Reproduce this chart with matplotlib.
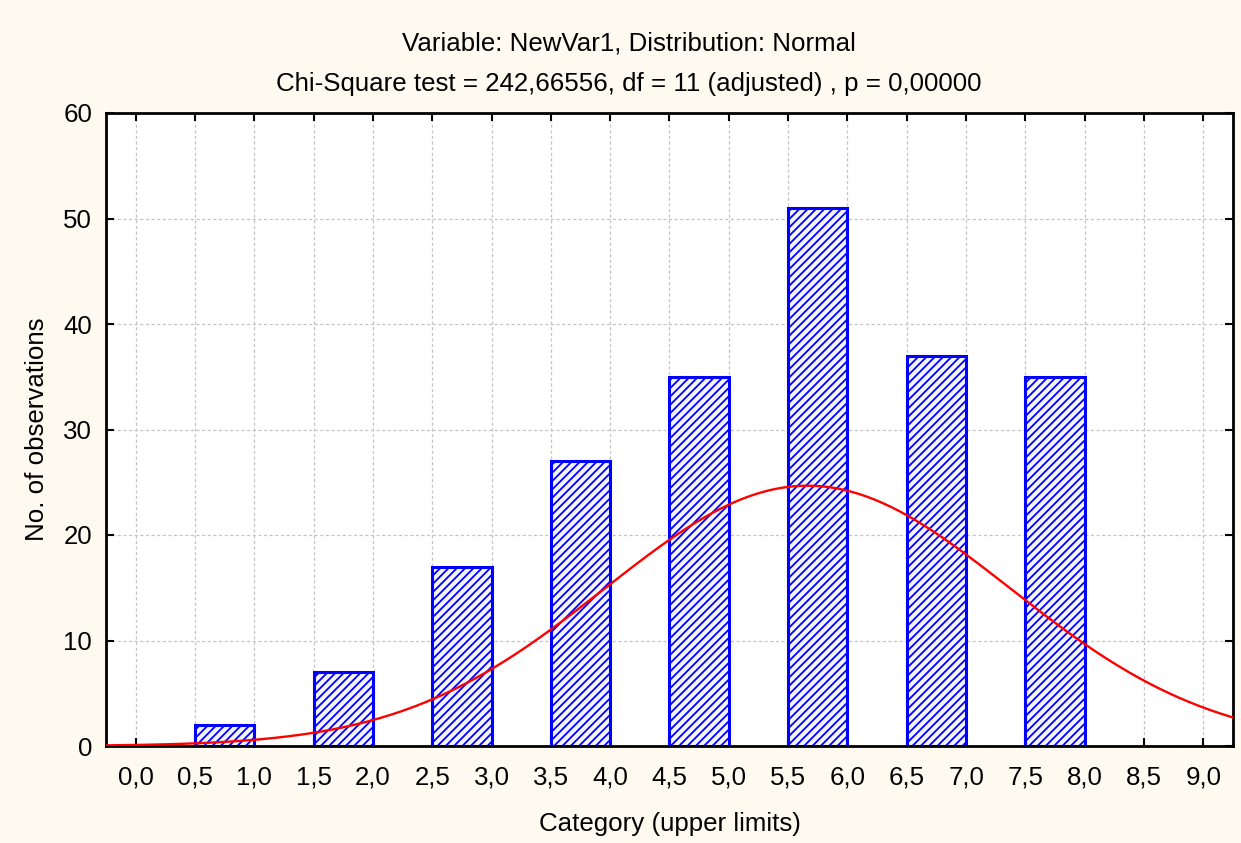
import numpy as np
import matplotlib
matplotlib.use('Agg')
import matplotlib.pyplot as plt

plt.rcParams['font.family'] = ['Liberation Sans', 'DejaVu Sans']
plt.rcParams['hatch.linewidth'] = 1.3

# 数据：每个区间的上限和观测数
upper_limits = [1.0, 2.0, 3.0, 4.0, 5.0, 6.0, 7.0, 8.0]
counts = [2, 7, 17, 27, 35, 51, 37, 35]
bin_width = 0.5

tick_values = [0.0, 0.5, 1.0, 1.5, 2.0, 2.5, 3.0, 3.5, 4.0, 4.5, 5.0, 5.5, 6.0, 6.5, 7.0, 7.5, 8.0, 8.5, 9.0]
tick_labels = ['0,0', '0,5', '1,0', '1,5', '2,0', '2,5', '3,0', '3,5', '4,0',
               '4,5', '5,0', '5,5', '6,0', '6,5', '7,0', '7,5', '8,0', '8,5', '9,0']

title1 = 'Variable: NewVar1, Distribution: Normal'
title2 = 'Chi-Square test = 242,66556, df = 11 (adjusted) , p = 0,00000'

# 拟合正态曲线：均值和标准差由观测数据算出
x_arr = np.array(upper_limits)
c_arr = np.array(counts)
n_total = c_arr.sum()
mean = (x_arr * c_arr).sum() / n_total
sd = np.sqrt(((x_arr - mean) ** 2 * c_arr).sum() / (n_total - 1))

fs = 18.6
fig = plt.figure(figsize=(12.41, 8.43), dpi=100, facecolor='#fffaf0')
ax = fig.add_axes([106 / 1241, 1 - 746 / 843, (1233 - 106) / 1241, (746 - 113) / 843])
ax.set_facecolor('white')

# 网格在最下面
ax.set_axisbelow(True)
ax.grid(True, color='#c4c4c4', linestyle=(0, (2.5, 2)), linewidth=0.9)

ax.bar([u - bin_width for u in upper_limits], counts, width=bin_width, align='edge',
       facecolor='#f4f4ff', edgecolor='#0000ff', hatch='////', linewidth=2.2, zorder=2)

xs = np.linspace(-0.25, 9.25, 400)
ys = n_total * bin_width / (sd * np.sqrt(2 * np.pi)) * np.exp(-(xs - mean) ** 2 / (2 * sd ** 2))
ax.plot(xs, ys, color='#ff0000', linewidth=1.7, zorder=3)

ax.set_xlim(-0.25, 9.25)
ax.set_ylim(0, 60)
ax.set_xticks(tick_values)
ax.set_xticklabels(tick_labels, fontsize=fs)
ax.set_yticks(range(0, 61, 10))
ax.tick_params(axis='both', labelsize=fs, direction='in', length=6, width=1.5,
               top=True, right=True, pad=10)
ax.tick_params(axis='x', pad=14)
for s in ax.spines.values():
    s.set_linewidth(2.0)

ax.set_xlabel('Category (upper limits)', fontsize=fs, labelpad=16)
ax.set_ylabel('No. of observations', fontsize=fs, labelpad=10)

fig.text(629 / 1241, 1 - 44 / 843, title1, fontsize=fs, ha='center', va='center')
fig.text(629 / 1241, 1 - 84 / 843, title2, fontsize=fs, ha='center', va='center')

plt.savefig('out.png', dpi=100, facecolor=fig.get_facecolor())
